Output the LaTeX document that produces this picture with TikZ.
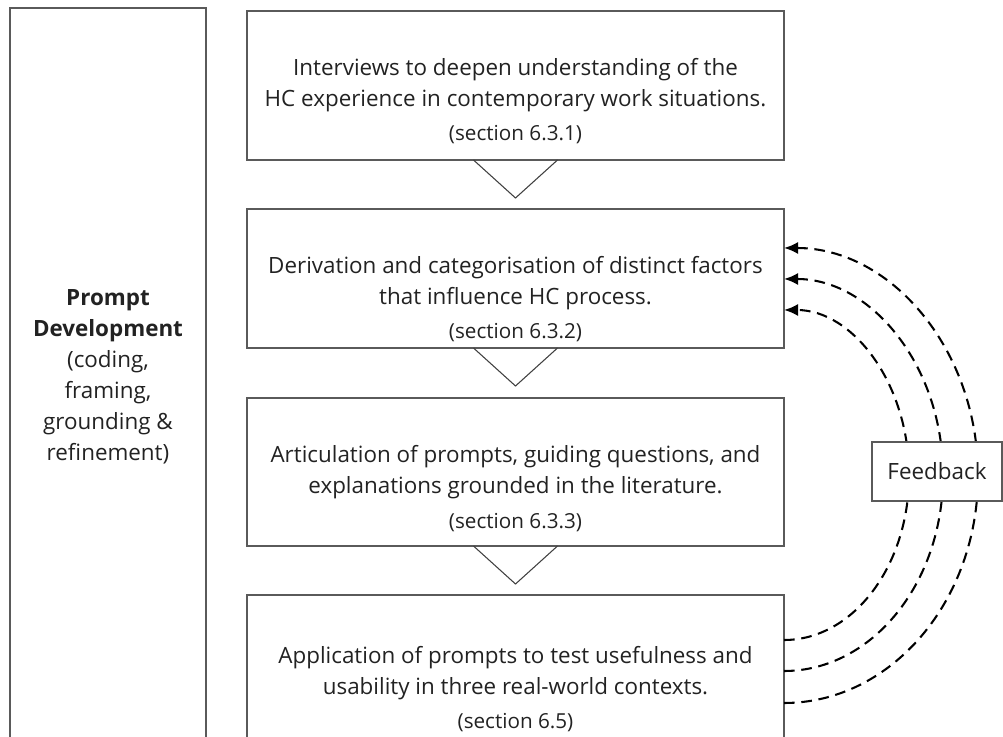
\documentclass[tikz,border=0pt]{standalone}
\usepackage{fontspec}
\setmainfont{Open Sans}[BoldFont={Open Sans Bold}]
\usetikzlibrary{arrows.meta,calc}
\definecolor{boxline}{HTML}{5A5A5A}
\definecolor{ink}{HTML}{222222}
\definecolor{tri}{HTML}{404040}
\begin{document}
\begin{tikzpicture}[x=0.75pt,y=-0.75pt,
  frame/.style={draw=boxline, line width=1.1pt, inner sep=0pt, outer sep=0pt},
  stage/.style={frame, minimum width=402.75pt},
  maintext/.style={text=ink, inner sep=0pt, anchor=base, font=\fontsize{16.8pt}{23.25pt}\selectfont},
  sectext/.style={text=ink, inner sep=0pt, anchor=base, font=\fontsize{15.5pt}{20pt}\selectfont},
  chevron/.style={draw=tri, line width=0.8pt},
  fb/.style={draw=black, line width=1.55pt, dash pattern=on 8pt off 5pt,
    -{Latex[length=10.5pt,width=9pt]}}]
\useasboundingbox (0,0) rectangle (1003,737);

% left column
\node[frame, minimum width=147pt, minimum height=552.75pt, align=center, text=ink,
  font=\fontsize{16.8pt}{23.25pt}\selectfont] (lbox) at (108,376.5)
  {\textbf{Prompt}\\\textbf{Development}\\(coding,\\framing,\\grounding \&\\refinement)};

% stage boxes
\node[stage, minimum height=111.75pt] (b1) at (515.5,85.5) {};
\node[stage, minimum height=104.25pt] (b2) at (515.5,278.5) {};
\node[stage, minimum height=111pt] (b3) at (515.5,472) {};
\node[stage, minimum height=120pt] (b4) at (515.5,675) {};

% stage texts
\node[maintext] (t1a) at ($(b1.north)+(0,65)$) {Interviews to deepen understanding of the};
\node[maintext] (t1b) at ($(b1.north)+(0,96)$) {HC experience in contemporary work situations.};
\node[sectext]  (t1c) at ($(b1.north)+(0,130)$) {(section 6.3.1)};

\node[maintext] (t2a) at ($(b2.north)+(0,65)$) {Derivation and categorisation of distinct factors};
\node[maintext] (t2b) at ($(b2.north)+(0,96)$) {that influence HC process.};
\node[sectext]  (t2c) at ($(b2.north)+(0,130)$) {(section 6.3.2)};

\node[maintext] (t3a) at ($(b3.north)+(0,65)$) {Articulation of prompts, guiding questions, and};
\node[maintext] (t3b) at ($(b3.north)+(0,96)$) {explanations grounded in the literature.};
\node[sectext]  (t3c) at ($(b3.north)+(0,130)$) {(section 6.3.3)};

\node[maintext] (t4a) at ($(b4.north)+(0,68)$) {Application of prompts to test usefulness and};
\node[maintext] (t4b) at ($(b4.north)+(0,99)$) {usability in three real-world contexts.};
\node[sectext]  (t4c) at ($(b4.north)+(0,133)$) {(section 6.5)};

% chevrons between stages
\foreach \b in {b1,b2,b3}
  \draw[chevron] ($(\b.south)+(-42,0)$) -- ($(\b.south)+(0,38)$) -- ($(\b.south)+(42,0)$);

% feedback loops from the last stage back to the second
\coordinate (s1) at ($(b4.north east)+(0,45)$);
\coordinate (s2) at ($(b4.north east)+(0,76)$);
\coordinate (s3) at ($(b4.north east)+(0,108)$);
\coordinate (e1) at ($(b2.north east)+(0,101)$);
\coordinate (e2) at ($(b2.north east)+(0,70)$);
\coordinate (e3) at ($(b2.north east)+(0,39)$);

\draw[fb] (s1) .. controls +(69,0) and +(0,91.1) .. ($(s1)+(125,-165)$)
               .. controls +(0,-91.1) and +(69,0) .. (e1);
\draw[fb] (s2) .. controls +(87.8,0) and +(0,108.3) .. ($(s2)+(159,-196)$)
               .. controls +(0,-108.3) and +(87.8,0) .. (e2);
\draw[fb] (s3) .. controls +(107.1,0) and +(0,125.6) .. ($(s3)+(194,-227.5)$)
               .. controls +(0,-125.6) and +(107.1,0) .. (e3);

\node[frame, fill=white, minimum width=97.5pt, minimum height=44.25pt, text=ink,
  font=\fontsize{16.8pt}{23.25pt}\selectfont] (fbk) at (937,471.5) {Feedback};
\end{tikzpicture}
\end{document}
